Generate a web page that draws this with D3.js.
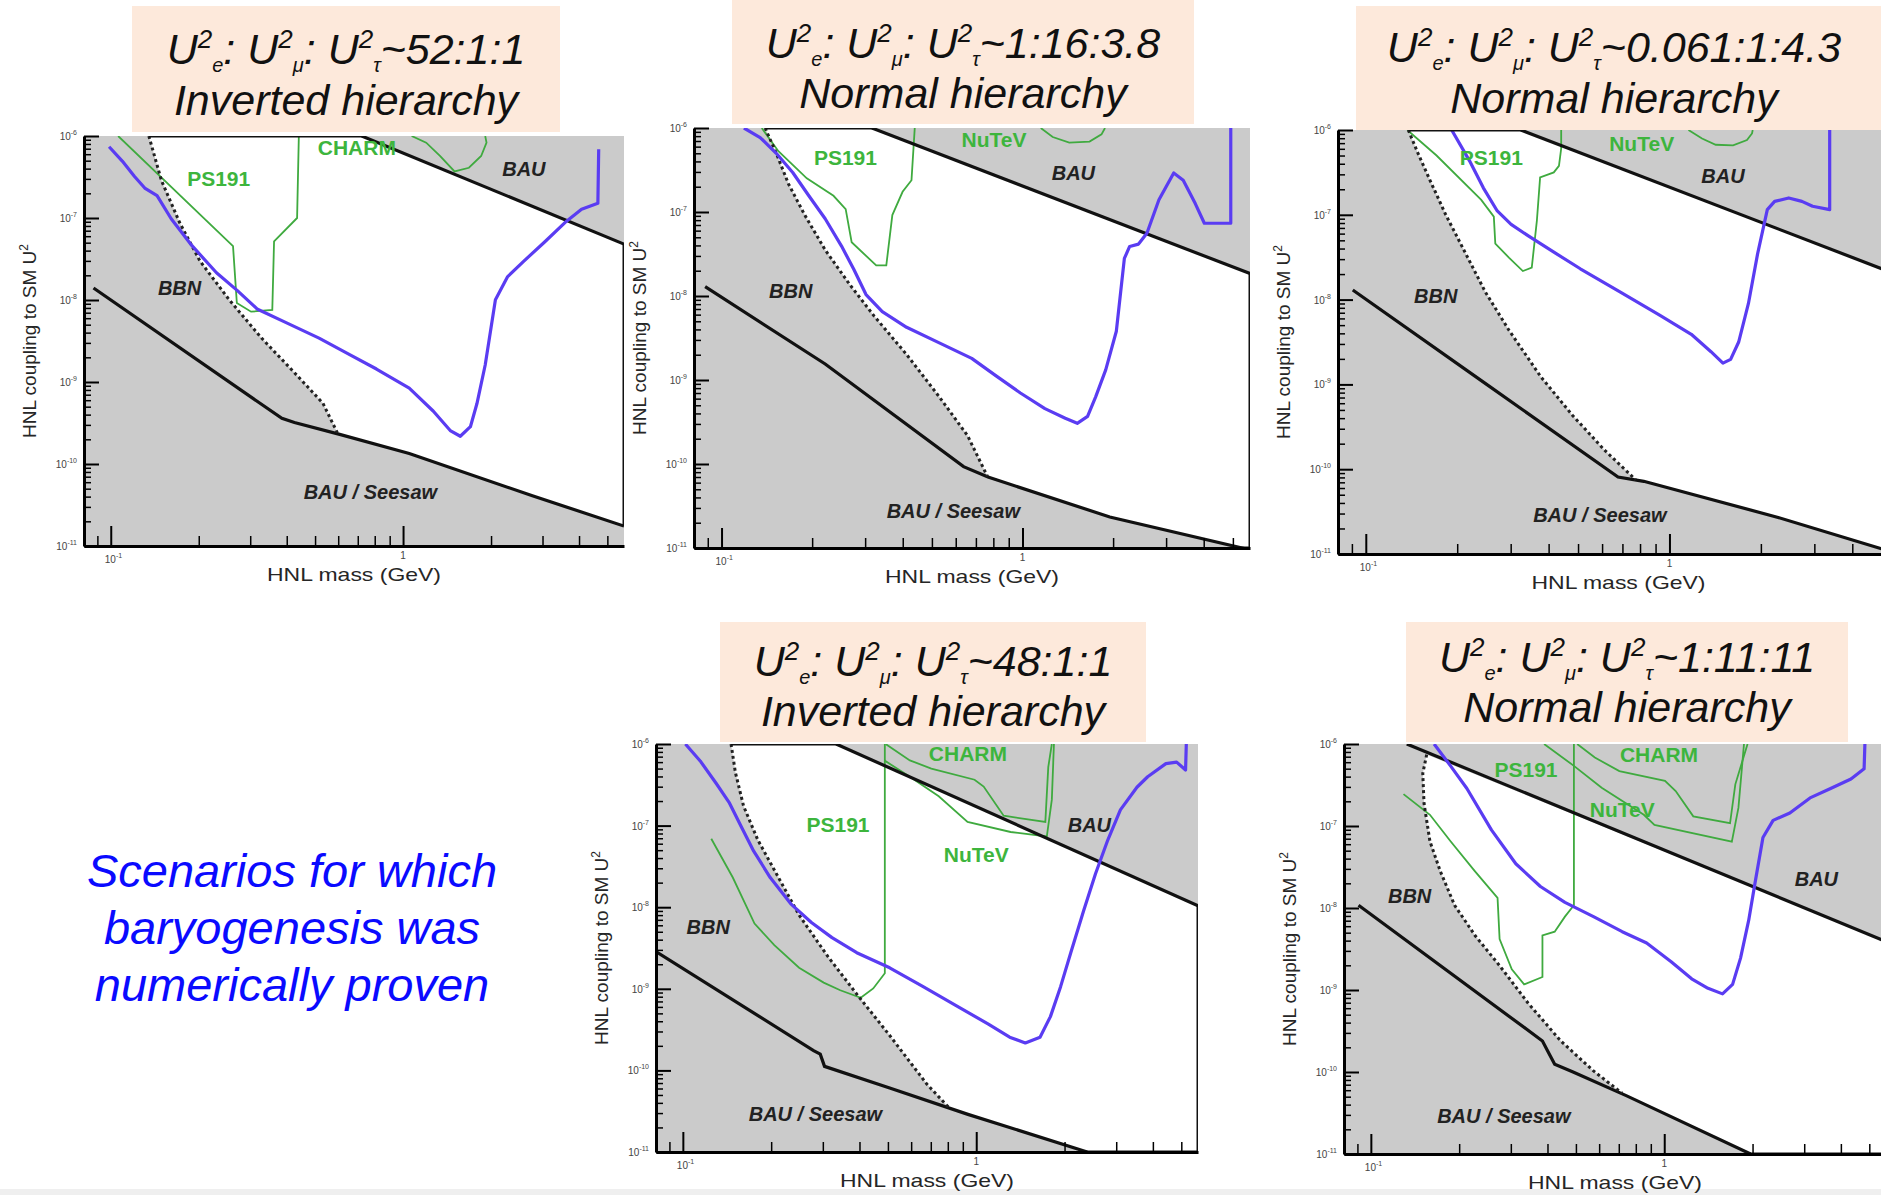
<!DOCTYPE html>
<head>
<meta charset="utf-8">
<style>
body { margin: 0; background: #fff; }
text { font-family: "Liberation Sans", Arial, sans-serif; }
.tl { font-size: 10px; fill: #444; }
.ttl { font-size: 43px; font-style: italic; fill: #111; }
.atitle { font-size: 19px; fill: #262626; }
.lab-g { font-size: 21px; font-weight: bold; fill: #3db53d; }
.lab-k { font-size: 20px; font-weight: bold; font-style: italic; fill: #222; }
</style>
</head>
<body>

<script src="https://d3js.org/d3.v7.min.js"></script>
<script>
var W = 1881, H = 1195;
var svg = d3.select("body").append("svg")
  .attr("width", W)
  .attr("height", H);

svg.append("rect").attr("x", 0).attr("y", 1189).attr("width", W).attr("height", 6).attr("fill", "#efefef");

var massRange = [0.081, 5.7];
var couplingRange = [1e-11, 1e-6];

var ratios = ["52:1:1", "1:16:3.8", "0.061:1:4.3", "48:1:1", "1:11:11"];
var hierarchies = ["Inverted hierarchy", "Normal hierarchy", "Normal hierarchy", "Inverted hierarchy", "Normal hierarchy"];
var noteLines = ["Scenarios for which", "baryogenesis was", "numerically proven"];

// [mass GeV, U^2]
var seesaw1 = [[0.0873,1.40e-8],[0.385,3.6e-10],[0.425,3.2e-10],[0.607,2.3e-10],[1.05,1.34e-10],[2.77,4.1e-11],[5.7,1.75e-11]];
var bbn1 = [[0.135,1e-6],[0.149,2.88e-7],[0.172,8.8e-8],[0.202,2.98e-8],[0.254,1.01e-8],[0.328,3.43e-9],[0.425,1.30e-9],[0.532,5.5e-10],[0.596,2.4e-10]];
var bau1 = [[0.722,1e-6],[5.7,4.8e-8]];
var ship1 = [[0.0987,7.4e-7],[0.1095,4.95e-7],[0.1206,3.21e-7],[0.1307,2.32e-7],[0.144,1.87e-7],[0.161,9.8e-8],[0.1896,4.6e-8],[0.230,2.15e-8],[0.270,1.32e-8],[0.318,7.7e-9],[0.398,5.3e-9],[0.516,3.43e-9],[0.647,2.22e-9],[0.811,1.44e-9],[1.05,8.4e-10],[1.27,4.4e-10],[1.45,2.56e-10],[1.57,2.18e-10],[1.70,2.85e-10],[1.79,5.46e-10],[1.91,1.61e-9],[2.07,1.01e-8],[2.28,1.93e-8],[2.59,2.98e-8],[3.05,5.1e-8],[3.58,8.8e-8],[4.08,1.28e-7],[4.64,1.51e-7],[4.67,6.9e-7]];
var ps1911 = [[0.106,1e-6],[0.262,4.54e-8],[0.270,9.2e-9],[0.302,7.2e-9],[0.357,7.55e-9],[0.362,5.2e-8],[0.434,1.0e-7],[0.440,1e-6]];
var charm1 = [[1.07,1e-6],[1.20,8.3e-7],[1.34,5.7e-7],[1.50,3.7e-7],[1.68,4.1e-7],[1.85,5.7e-7],[1.93,8.3e-7],[1.91,1e-6]];

var seesaw2 = [[0.0882,1.29e-8],[0.221,1.55e-9],[0.637,9.3e-11],[0.768,7.0e-11],[1.95,2.34e-11],[5.37,1e-11],[5.7,9.5e-12]];
var bbn2 = [[0.1396,1e-6],[0.152,5.0e-7],[0.167,2.15e-7],[0.189,9.2e-8],[0.221,3.53e-8],[0.267,1.36e-8],[0.321,5.8e-9],[0.412,2.01e-9],[0.529,6.3e-10],[0.657,2.17e-10],[0.765,7.1e-11]];
var bau2 = [[0.316,1e-6],[5.7,1.85e-8]];
var ship2 = [[0.1187,1e-6],[0.1344,7.7e-7],[0.152,5.0e-7],[0.1724,2.95e-7],[0.195,1.56e-7],[0.221,8.3e-8],[0.2504,3.93e-8],[0.275,2.08e-8],[0.302,1.04e-8],[0.342,6.5e-9],[0.412,4.24e-9],[0.529,2.77e-9],[0.678,1.81e-9],[0.817,1.12e-9],[0.984,7.0e-10],[1.187,4.56e-10],[1.387,3.5e-10],[1.52,3.05e-10],[1.645,3.69e-10],[1.75,6.3e-10],[1.89,1.32e-9],[2.05,3.81e-9],[2.18,2.8e-8],[2.27,3.89e-8],[2.43,4.15e-8],[2.59,5.58e-8],[2.84,1.40e-7],[3.18,2.92e-7],[3.42,2.39e-7],[3.75,1.26e-7],[4.02,7.35e-8],[4.92,7.35e-8],[4.92,1e-6]];
var ps1912 = [[0.136,1e-6],[0.1545,5.3e-7],[0.192,2.52e-7],[0.2355,1.56e-7],[0.2585,1.08e-7],[0.2706,4.37e-8],[0.3265,2.31e-8],[0.3527,2.31e-8],[0.3694,9.2e-8],[0.3995,1.74e-7],[0.4277,2.39e-7],[0.4385,1e-6]];
var nutev2 = [[1.15,1e-6],[1.26,7.8e-7],[1.43,6.7e-7],[1.67,6.9e-7],[1.83,8.4e-7],[1.88,1e-6]];

var seesaw3 = [[0.0906,1.3e-8],[0.25,1.0e-9],[0.677,8.1e-11],[0.823,7.2e-11],[2.28,2.7e-11],[5.7,1e-11]];
var bbn3 = [[0.138,1e-6],[0.1486,5.3e-7],[0.1626,2.57e-7],[0.1834,1.0e-7],[0.2131,3.51e-8],[0.2475,1.23e-8],[0.2964,4.33e-9],[0.377,1.23e-9],[0.479,4.33e-10],[0.61,1.69e-10],[0.774,7.5e-11]];
var bau3 = [[0.324,1e-6],[5.7,1.93e-8]];
var ship3 = [[0.1918,1e-6],[0.2196,4.33e-7],[0.2438,2.08e-7],[0.271,1.11e-7],[0.301,7.7e-8],[0.344,5.6e-8],[0.4125,3.7e-8],[0.5087,2.31e-8],[0.687,1.23e-8],[0.928,6.58e-9],[1.18,3.9e-9],[1.37,2.43e-9],[1.5,1.78e-9],[1.59,1.97e-9],[1.69,3.16e-9],[1.82,9.0e-9],[1.95,3.44e-8],[2.10,1.15e-7],[2.22,1.44e-7],[2.47,1.58e-7],[2.73,1.44e-7],[2.96,1.26e-7],[3.37,1.15e-7],[3.37,1e-6]];
var ps1913 = [[0.137,1e-6],[0.171,5.0e-7],[0.24,1.5e-7],[0.264,9.5e-8],[0.267,4.56e-8],[0.296,3.13e-8],[0.329,2.17e-8],[0.352,2.38e-8],[0.366,8.6e-8],[0.375,2.76e-7],[0.416,3.16e-7],[0.4326,3.78e-7],[0.44,6.05e-7],[0.44,1e-6]];
var nutev3 = [[1.155,1e-6],[1.28,7.94e-7],[1.42,6.7e-7],[1.62,6.6e-7],[1.80,7.6e-7],[1.87,9.1e-7],[1.88,1e-6]];

var seesaw4 = [[0.0802,2.92e-9],[0.279,1.75e-10],[0.294,1.58e-10],[0.304,1.12e-10],[0.507,6.07e-11],[0.937,2.89e-11],[2.39,1e-11]];
var bbn4 = [[0.146,1e-6],[0.151,4.5e-7],[0.161,1.74e-7],[0.18,6.7e-8],[0.205,2.86e-8],[0.249,8.0e-9],[0.312,2.49e-9],[0.3915,8.6e-10],[0.507,2.68e-10],[0.6785,6.8e-11],[0.81,3.45e-11]];
var bau4 = [[0.333,1e-6],[5.7,1.04e-8]];
var ship4 = [[0.102,1e-6],[0.1146,6.2e-7],[0.130,3.28e-7],[0.1437,1.93e-7],[0.1582,9.7e-8],[0.1744,4.86e-8],[0.1985,2.31e-8],[0.2333,1.1e-8],[0.2743,6.5e-9],[0.3224,4.24e-9],[0.3915,2.77e-9],[0.507,1.81e-9],[0.657,1.07e-9],[0.851,6.27e-10],[1.10,3.69e-10],[1.30,2.55e-10],[1.47,2.17e-10],[1.65,2.55e-10],[1.79,4.56e-10],[1.94,1.07e-9],[2.10,2.77e-9],[2.32,8.9e-9],[2.55,2.57e-8],[2.81,6.7e-8],[3.10,1.56e-7],[3.53,2.95e-7],[3.84,3.97e-7],[4.43,5.75e-7],[4.82,6.0e-7],[5.17,4.8e-7],[5.2,1e-6]];
var ps1914 = [[0.125,6.9e-8],[0.148,2.31e-8],[0.1755,6.3e-9],[0.205,3.43e-9],[0.249,1.81e-9],[0.302,1.19e-9],[0.344,9.6e-10],[0.404,7.75e-10],[0.4456,1.01e-9],[0.488,1.55e-9],[0.488,1e-6]];
var charm4 = [[0.491,1e-6],[0.594,6.3e-7],[0.703,5.0e-7],[0.987,3.65e-7],[1.06,3.01e-7],[1.24,1.32e-7],[1.72,1.11e-7],[1.76,5.2e-7],[1.81,1e-6]];
var nutev4 = [[0.486,6.3e-7],[0.594,3.97e-7],[0.745,2.29e-7],[0.934,1.11e-7],[1.31,8.35e-8],[1.74,7.35e-8],[1.81,2.08e-7],[1.84,1e-6]];

var seesaw5 = [[0.0908,1.08e-8],[0.3845,2.39e-10],[0.406,1.65e-10],[0.4233,1.24e-10],[0.489,1.0e-10],[0.742,5.15e-11],[1.97,1e-11]];
var bbn5 = [[0.155,7.43e-7],[0.1503,4.38e-7],[0.1518,1.88e-7],[0.159,6.5e-8],[0.1725,2.8e-8],[0.193,1.08e-8],[0.2265,4.62e-9],[0.2747,1.98e-9],[0.3437,6.9e-10],[0.444,2.39e-10],[0.574,1.03e-10],[0.719,5.5e-11]];
var bau5 = [[0.1326,1e-6],[5.7,3.9e-9]];
var ship5 = [[0.1643,1e-6],[0.1869,5.41e-7],[0.2125,2.87e-7],[0.2576,8.96e-8],[0.312,3.46e-8],[0.3784,1.83e-8],[0.4587,1.17e-8],[0.574,7.85e-9],[0.719,5.14e-9],[0.871,3.74e-9],[1.056,2.21e-9],[1.24,1.37e-9],[1.41,1.05e-9],[1.58,8.97e-10],[1.71,1.17e-9],[1.82,2.45e-9],[1.94,7.06e-9],[2.04,2.04e-8],[2.17,7.25e-8],[2.35,1.17e-7],[2.68,1.44e-7],[3.14,2.2e-7],[3.69,2.87e-7],[4.33,3.74e-7],[4.80,4.98e-7],[4.83,1e-6]];
var ps1915 = [[0.1292,2.45e-7],[0.159,1.37e-7],[0.1869,6.52e-8],[0.2265,2.8e-8],[0.2703,1.33e-8],[0.2747,4.17e-9],[0.3023,1.79e-9],[0.333,1.17e-9],[0.3845,1.44e-9],[0.3845,4.62e-9],[0.4233,5.14e-9],[0.4587,7.85e-9],[0.4922,1.08e-8],[0.4922,1e-6]];
var charm5 = [[0.505,1e-6],[0.58,6.84e-7],[0.703,4.67e-7],[1.006,3.55e-7],[1.094,2.67e-7],[1.256,1.31e-7],[1.676,1.08e-7],[1.747,3.22e-7],[1.923,1e-6]];
var nutev5 = [[0.3895,1e-6],[0.4922,5.41e-7],[0.612,2.93e-7],[0.852,1.37e-7],[0.926,1.03e-7],[1.70,6.46e-8],[1.79,1.66e-7],[1.87,1e-6]];

// region labels: text, anchor mass, anchor coupling, kind
var notes1 = [["PS191",0.234,3.05e-7,"g"],["CHARM",0.695,7.2e-7,"g"],["BAU",2.59,4e-7,"k"],["BBN",0.172,1.4e-8,"k"],["BAU / Seesaw",0.773,4.6e-11,"k"]];
var notes2 = [["PS191",0.258,4.5e-7,"g"],["NuTeV",0.804,7.3e-7,"g"],["BAU",1.476,2.95e-7,"k"],["BBN",0.1698,1.16e-8,"k"],["BAU / Seesaw",0.589,2.75e-11,"k"]];
var notes3 = [["PS191",0.259,4.8e-7,"g"],["NuTeV",0.81,6.9e-7,"g"],["BAU",1.5,2.85e-7,"k"],["BBN",0.17,1.11e-8,"k"],["BAU / Seesaw",0.59,2.85e-11,"k"]];
var notes4 = [["CHARM",0.937,7.7e-7,"g"],["PS191",0.338,1.02e-7,"g"],["NuTeV",1.0,4.37e-8,"g"],["BAU",2.43,1.02e-7,"k"],["BBN",0.122,5.8e-9,"k"],["BAU / Seesaw",0.283,2.89e-11,"k"]];
var notes5 = [["CHARM",0.96,7.4e-7,"g"],["PS191",0.338,4.87e-7,"g"],["NuTeV",0.719,1.6e-7,"g"],["BAU",3.3,2.26e-8,"k"],["BBN",0.1356,1.4e-8,"k"],["BAU / Seesaw",0.284,2.88e-11,"k"]];

var panels = [
  {left: 84,   top: 136, w: 540, h: 410, seesaw: seesaw1, bbn: bbn1, bau: bau1, ship: ship1, green: [ps1911, charm1], notes: notes1,
   box: [132, 6, 428, 126], tx: 346, ty: [64, 115]},
  {left: 694,  top: 128, w: 556, h: 420, seesaw: seesaw2, bbn: bbn2, bau: bau2, ship: ship2, green: [ps1912, nutev2], notes: notes2,
   box: [732, 0, 462, 124], tx: 963, ty: [58, 108]},
  {left: 1338, top: 130, w: 561, h: 424, seesaw: seesaw3, bbn: bbn3, bau: bau3, ship: ship3, green: [ps1913, nutev3], notes: notes3,
   box: [1356, 6, 525, 124], tx: 1614, ty: [62, 113]},
  {left: 656,  top: 744, w: 542, h: 408, seesaw: seesaw4, bbn: bbn4, bau: bau4, ship: ship4, green: [ps1914, charm4, nutev4], notes: notes4,
   box: [720, 622, 426, 120], tx: 933, ty: [676, 726]},
  {left: 1344, top: 744, w: 542, h: 410, seesaw: seesaw5, bbn: bbn5, bau: bau5, ship: ship5, green: [ps1915, charm5, nutev5], notes: notes5,
   box: [1406, 622, 442, 120], tx: 1627, ty: [672, 722]}
];

var grey = "#cbcbcb";

function whiteArea(p) {
  var end = p.bbn[p.bbn.length - 1];
  var pts = p.bbn.slice();
  p.seesaw.forEach(function(d) { if (d[0] > end[0]) pts.push(d); });
  var last = p.seesaw[p.seesaw.length - 1];
  pts.push([massRange[1], last[1]]);
  pts.push([massRange[1], p.bau[p.bau.length - 1][1]]);
  if (p.bau[0][0] > p.bbn[0][0]) pts.push(p.bau[0]);
  return pts;
}

panels.forEach(function(p, i) {
  var x = d3.scaleLog().domain(massRange).range([0, p.w]);
  var y = d3.scaleLog().domain(couplingRange).range([p.h, 0]);
  var line = d3.line().x(function(d) { return x(d[0]); }).y(function(d) { return y(d[1]); });

  var g = svg.append("g").attr("transform", "translate(" + p.left + "," + p.top + ")");
  var defs = g.append("defs");
  defs.append("clipPath").attr("id", "clip" + i)
    .append("rect").attr("width", p.w).attr("height", p.h);
  var white = whiteArea(p);
  defs.append("clipPath").attr("id", "wclip" + i)
    .append("path").attr("d", line(white) + "Z");

  // excluded (grey) = frame minus allowed region
  var plot = g.append("g").attr("clip-path", "url(#clip" + i + ")");
  plot.append("path")
    .attr("d", "M0,0H" + p.w + "V" + p.h + "H0Z" + line(white) + "Z")
    .attr("fill-rule", "evenodd")
    .attr("fill", grey);

  // top/right frame only visible where the region is white
  g.append("rect")
    .attr("width", p.w).attr("height", p.h)
    .attr("fill", "none").attr("stroke", "#111").attr("stroke-width", 3)
    .attr("clip-path", "url(#wclip" + i + ")");

  p.green.forEach(function(c) {
    plot.append("path").attr("d", line(c))
      .attr("fill", "none").attr("stroke", "#3faa3f").attr("stroke-width", 1.8);
  });
  plot.append("path").attr("d", line(p.bau))
    .attr("fill", "none").attr("stroke", "#111").attr("stroke-width", 3.2);
  plot.append("path").attr("d", line(p.seesaw))
    .attr("fill", "none").attr("stroke", "#111").attr("stroke-width", 3.2);
  plot.append("path").attr("d", line(p.bbn))
    .attr("fill", "none").attr("stroke", "#222").attr("stroke-width", 3)
    .attr("stroke-dasharray", "3,3");
  plot.append("path").attr("d", line(p.ship))
    .attr("fill", "none").attr("stroke", "#5a3cf2").attr("stroke-width", 3.2)
    .attr("stroke-linejoin", "round");

  // axes, ticks pointing inward
  var yMajor = [], yMinor = [];
  for (var e = -11; e <= -6; e++) {
    yMajor.push(Math.pow(10, e));
    if (e < -6) for (var k = 2; k < 10; k++) yMinor.push(k * Math.pow(10, e));
  }
  var xMajor = [0.1, 1], xMinor = [0.09, 0.2, 0.3, 0.4, 0.5, 0.6, 0.7, 0.8, 0.9, 2, 3, 4, 5];

  g.append("g").call(d3.axisLeft(y).tickValues(yMinor).tickSize(-7).tickSizeOuter(0).tickFormat(""))
    .call(function(a) { a.select(".domain").remove(); a.selectAll("line").attr("stroke-width", 1.5); });
  g.append("g").call(d3.axisLeft(y).tickValues(yMajor).tickSize(-15).tickSizeOuter(0).tickFormat(""))
    .call(function(a) { a.select(".domain").attr("stroke-width", 3); a.selectAll("line").attr("stroke-width", 2); });
  g.append("g").attr("transform", "translate(0," + p.h + ")")
    .call(d3.axisBottom(x).tickValues(xMinor).tickSize(-10).tickSizeOuter(0).tickFormat(""))
    .call(function(a) { a.select(".domain").remove(); a.selectAll("line").attr("stroke-width", 1.5); });
  g.append("g").attr("transform", "translate(0," + p.h + ")")
    .call(d3.axisBottom(x).tickValues(xMajor).tickSize(-20).tickSizeOuter(0).tickFormat(""))
    .call(function(a) { a.select(".domain").attr("stroke-width", 3); a.selectAll("line").attr("stroke-width", 2); });

  yMajor.forEach(function(v) {
    var t = g.append("text").attr("class", "tl").attr("x", -7).attr("y", y(v) + 4)
      .attr("text-anchor", "end").text("10");
    t.append("tspan").attr("dy", -5).attr("font-size", 7).text(Math.round(Math.log10(v)));
  });
  var t1 = g.append("text").attr("class", "tl").attr("x", x(0.1) - 6).attr("y", p.h + 17).text("10");
  t1.append("tspan").attr("dy", -5).attr("font-size", 7).text("-1");
  g.append("text").attr("class", "tl").attr("x", x(1)).attr("y", p.h + 13)
    .attr("font-size", 8).attr("text-anchor", "middle").text("1");

  g.append("text").attr("class", "atitle")
    .attr("x", p.w / 2).attr("y", p.h + 35).attr("text-anchor", "middle")
    .attr("textLength", 174).attr("lengthAdjust", "spacingAndGlyphs")
    .text("HNL mass (GeV)");
  var yt = g.append("text").attr("class", "atitle")
    .attr("transform", "translate(-48," + (p.h / 2) + ") rotate(-90)")
    .attr("text-anchor", "middle")
    .attr("font-size", 21)
    .text("HNL coupling to SM U");
  yt.append("tspan").attr("dy", -8).attr("font-size", 12).text("2");

  p.notes.forEach(function(n) {
    g.append("text").attr("class", n[3] == "g" ? "lab-g" : "lab-k")
      .attr("x", x(n[1])).attr("y", y(n[2]))
      .attr("text-anchor", "middle").attr("dominant-baseline", "central")
      .text(n[0]);
  });

  // title box
  svg.append("rect")
    .attr("x", p.box[0]).attr("y", p.box[1]).attr("width", p.box[2]).attr("height", p.box[3])
    .attr("fill", "#fde9db");
  var t = svg.append("text").attr("class", "ttl").attr("x", p.tx).attr("y", p.ty[0])
    .attr("text-anchor", "middle");
  ["e", "\u03bc", "\u03c4"].forEach(function(f, j) {
    t.append("tspan").attr("dy", j == 0 ? 0 : -8).text(j == 0 ? "U" : ": U");
    t.append("tspan").attr("dy", -16).attr("font-size", 26).text("2");
    t.append("tspan").attr("dy", 24).attr("font-size", 20).text(f);
  });
  t.append("tspan").attr("dy", -8).text("~" + ratios[i]);
  svg.append("text").attr("class", "ttl").attr("x", p.tx).attr("y", p.ty[1])
    .attr("text-anchor", "middle").text(hierarchies[i]);
});

svg.append("g").selectAll("text")
  .data(noteLines)
  .enter().append("text")
  .attr("x", 292)
  .attr("y", function(d, i) { return 887 + i * 57; })
  .attr("text-anchor", "middle")
  .attr("font-size", 47)
  .attr("font-style", "italic")
  .attr("fill", "#0a0aff")
  .text(function(d) { return d; });
</script>
</body>
